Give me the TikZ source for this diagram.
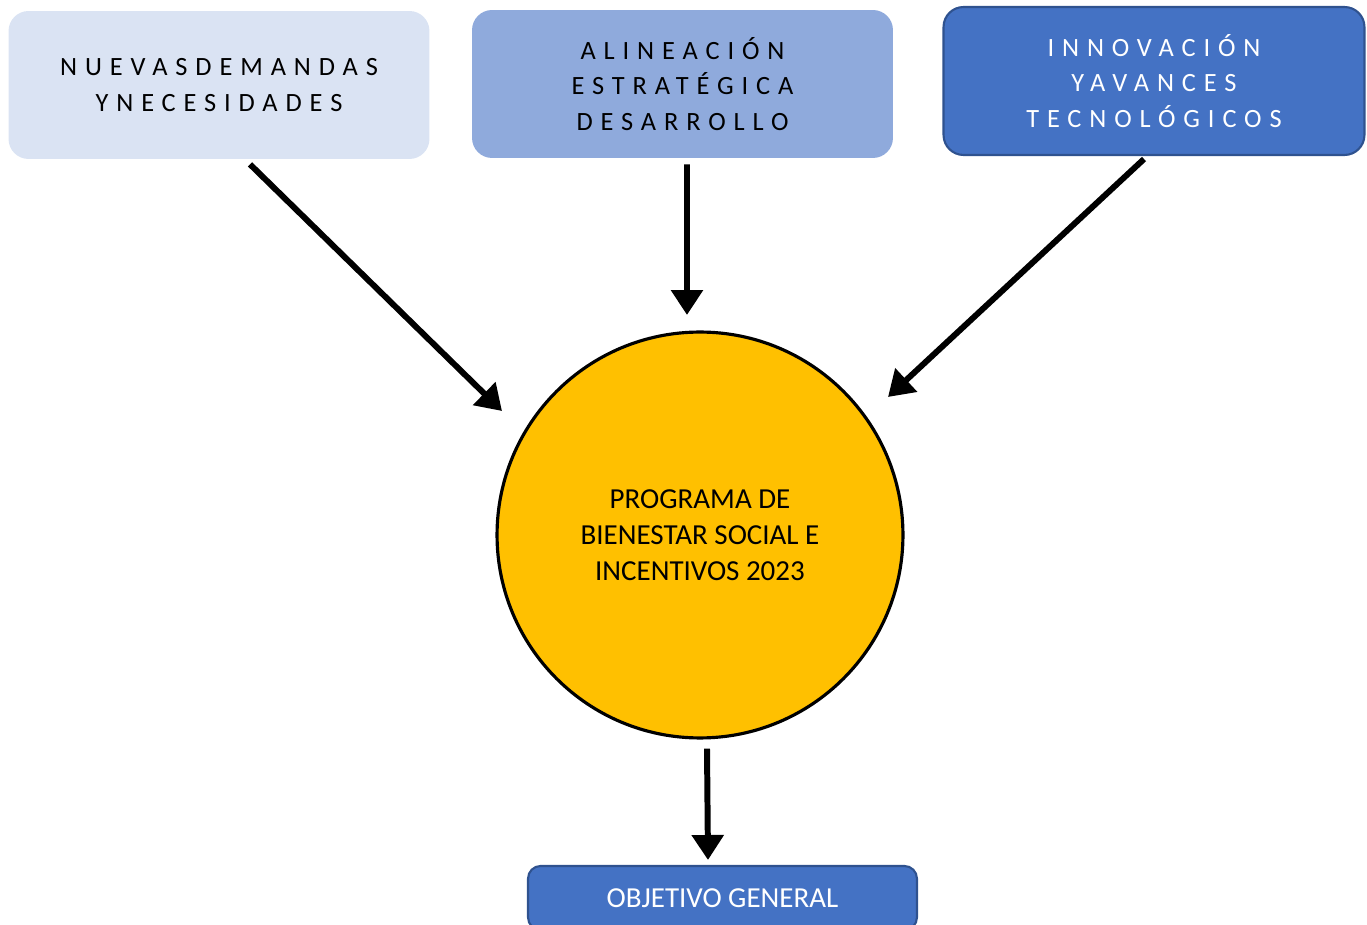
\documentclass[tikz,border=0pt]{standalone}
\usepackage{fontspec}
\setmainfont{Carlito}
\newfontfamily\spacedfont[LetterSpace=30]{Carlito}
\usetikzlibrary{arrows.meta}
\definecolor{boxpale}{HTML}{DAE3F3}
\definecolor{boxmid}{HTML}{8FAADC}
\definecolor{boxblue}{HTML}{4472C4}
\definecolor{boxedge}{HTML}{2F528F}
\definecolor{sungold}{HTML}{FFC000}
\tikzset{
  topbox/.style={rounded corners=0.4cm,minimum width=8.42cm,minimum height=2.96cm,
    align=center,font=\spacedfont\fontsize{15}{20.4}\selectfont},
  pale box/.style={topbox,fill=boxpale},
  mid box/.style={topbox,fill=boxmid},
  blue box/.style={topbox,fill=boxblue,draw=boxedge,line width=1.2pt,text=white},
  core/.style={circle,fill=sungold,draw=black,line width=1.8pt,minimum size=8.12cm,
    align=center,font=\fontsize{16.5}{20.4}\selectfont},
  goal/.style={rounded corners=0.25cm,fill=boxblue,draw=boxedge,line width=1.2pt,
    minimum width=7.78cm,minimum height=1.28cm,text=white,
    font=\fontsize{16.5}{18}\selectfont},
  flow/.style={draw=black,line width=3.4pt,-{Triangle[length=0.5cm,width=0.62cm]}}
}

\begin{document}
\begin{tikzpicture}[x=0.02cm,y=-0.02cm]
  \useasboundingbox (0,0) rectangle (1367,925);
  \node[pale box] (nuevas) at (219,85) {NUEVASDEMANDAS\\YNECESIDADES};
  \node[mid box] (alineacion) at (682.5,84) {ALINEACIÓN\\ESTRATÉGICA\\DESARROLLO};
  \node[blue box] (innovacion) at (1154,81) {INNOVACIÓN\\YAVANCES\\TECNOLÓGICOS};
  \node[core] (programa) at (700,535) {PROGRAMA DE\\BIENESTAR SOCIAL E\\INCENTIVOS 2023};
  \node[goal] (objetivo) at (722.5,898) {OBJETIVO GENERAL};
  \coordinate (tipa) at (502,411);
  \coordinate (tipb) at (687,315);
  \coordinate (tipc) at (888,397);
  \coordinate (tipd) at (708,860);
  \draw[flow] ([shift={(31,5)}]nuevas.south) -- (tipa);
  \draw[flow] ([shift={(4.5,6)}]alineacion.south) -- (tipb);
  \draw[flow] ([shift={(-10,3)}]innovacion.south) -- (tipc);
  \draw[flow] ([shift={(7,9)}]programa.south) -- (tipd);
\end{tikzpicture}
\end{document}
